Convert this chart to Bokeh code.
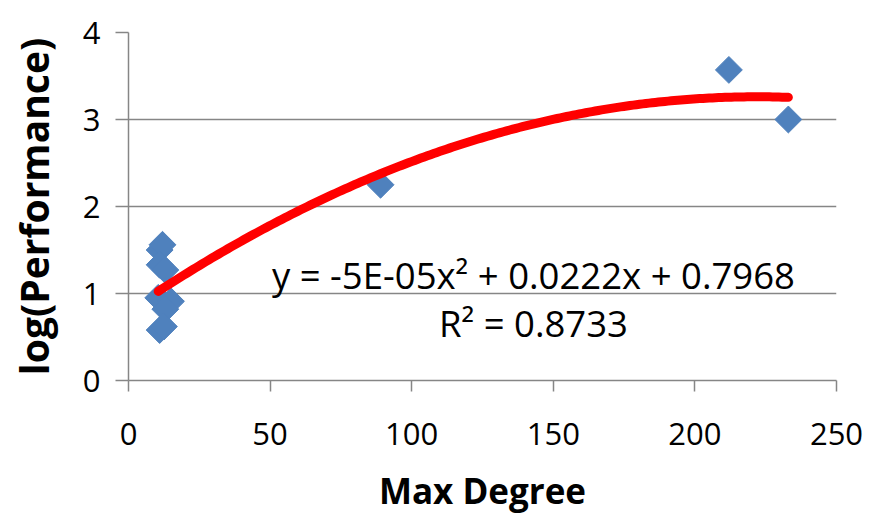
import numpy as np
from bokeh.plotting import figure
from bokeh.models import Range1d, FixedTicker, BoxAnnotation
from bokeh.core.properties import value
from bokeh.embed import file_html
from bokeh.resources import INLINE

# ---- data ----
max_degree = [11, 12, 11, 13, 10.5, 15, 13, 11, 12.5, 89, 212, 233]
log_perf = [1.50, 1.56, 1.33, 1.27, 0.95, 0.91, 0.82, 0.58, 0.62, 2.25, 3.57, 3.00]
x_ticks = [0, 50, 100, 150, 200, 250]
y_ticks = [0, 1, 2, 3, 4]
trend_coef = [-5e-05, 0.0222, 0.7968]   # quadratic trendline shown on chart
trend_x_range = [10.5, 233]
eq_label = "y = -5E-05x\u00b2 + 0.0222x + 0.7968"
r2_label = "R\u00b2 = 0.8733"
x_title = "Max Degree"
y_title = "log(Performance)"

FONT = "Open Sans"
GRID = "#868686"

p = figure(width=872, height=516, output_backend="svg", toolbar_location=None,
           x_range=Range1d(0, 250), y_range=Range1d(0, 4),
           min_border_left=128, min_border_right=36, min_border_top=32,
           min_border_bottom=135)
p.outline_line_color = None
p.background_fill_color = "white"
p.border_fill_color = "white"

# outer frame line (only its top and left edges fall inside the picture)
p.add_layout(BoxAnnotation(
    left=5, left_units="canvas", top=5, top_units="canvas",
    right=900, right_units="canvas", bottom=600, bottom_units="canvas",
    fill_color=None, fill_alpha=0, line_color="#000000", line_width=2,
    level="overlay"))

# grid
p.xgrid.visible = False
p.ygrid.ticker = FixedTicker(ticks=y_ticks)
p.ygrid.grid_line_color = GRID
p.ygrid.grid_line_width = 1.5

# axes
for ax in (p.xaxis[0], p.yaxis[0]):
    ax.axis_line_color = GRID
    ax.axis_line_width = 1.5
    ax.major_tick_line_color = GRID
    ax.major_tick_line_width = 1.5
    ax.major_tick_in = 0
    ax.minor_tick_line_color = None
    ax.major_label_text_font = FONT
    ax.major_label_text_font_size = "31px"
    ax.major_label_text_color = "#000000"
    ax.axis_label_text_font = FONT
    ax.axis_label_text_font_style = "bold"
    ax.axis_label_text_color = "#000000"

p.xaxis.axis_label_text_font_size = "35px"
p.yaxis.axis_label_text_font_size = "39px"
p.xaxis.ticker = FixedTicker(ticks=x_ticks)
p.yaxis.ticker = FixedTicker(ticks=y_ticks)
p.xaxis.major_tick_out = 11
p.yaxis.major_tick_out = 13
p.xaxis.major_label_standoff = 31
p.yaxis.major_label_standoff = 15
p.xaxis.axis_label = x_title
p.yaxis.axis_label = y_title
p.xaxis.axis_label_standoff = 19
p.yaxis.axis_label_standoff = 20

# points
p.scatter(max_degree, log_perf, marker="square", size=19, angle=np.pi / 4,
          fill_color="#4F81BD", line_color="#4F81BD")

# trendline
tx = np.linspace(trend_x_range[0], trend_x_range[1], 200)
ty = np.polyval(trend_coef, tx)
p.line(tx, ty, line_color="#FF0000", line_width=9, line_cap="round", line_join="round")

# equation labels
p.text(x=[143], y=[1.21], text=[eq_label], text_font=value(FONT),
       text_font_size="36.5px", text_align="center", text_baseline="middle",
       text_color="#000000")
p.text(x=[143], y=[0.66], text=[r2_label], text_font=value(FONT),
       text_font_size="36.5px", text_align="center", text_baseline="middle",
       text_color="#000000")

open("out.html", "w").write(file_html(p, INLINE))
